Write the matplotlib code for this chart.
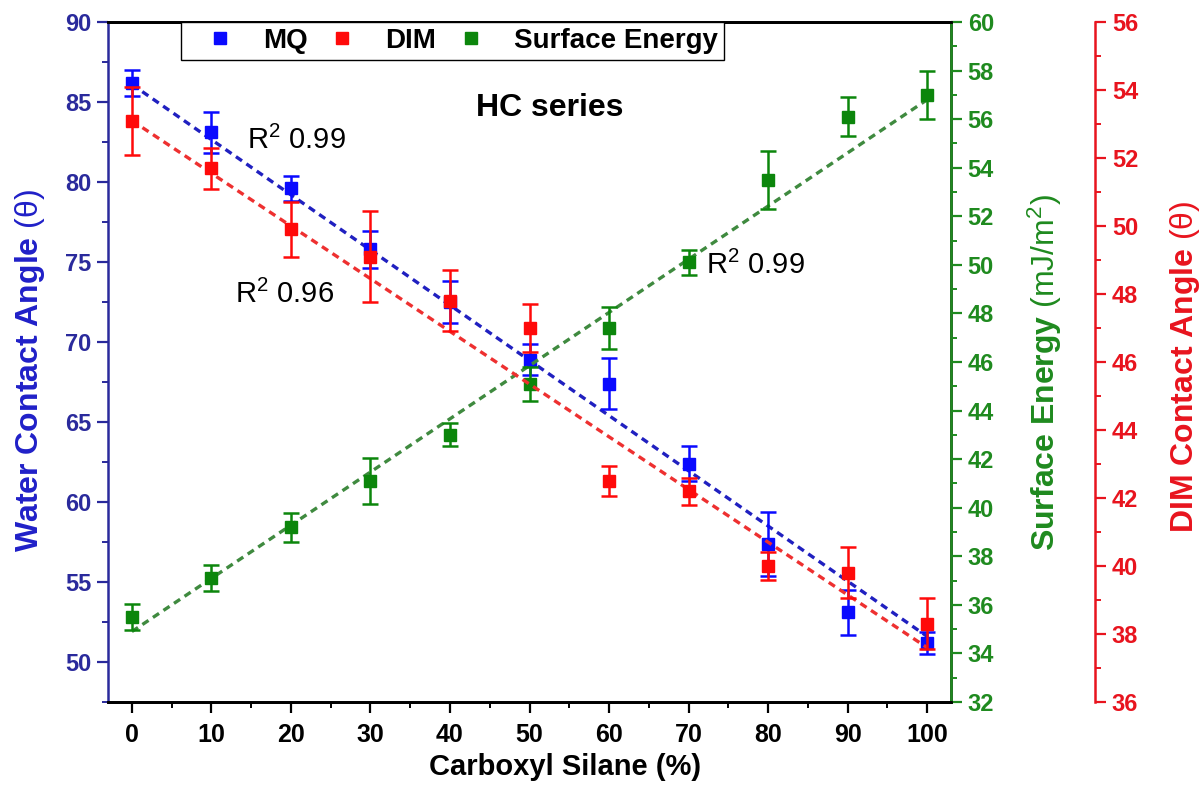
import numpy as np
import matplotlib
matplotlib.use('Agg')
import matplotlib.pyplot as plt
from matplotlib.lines import Line2D
from matplotlib.ticker import MultipleLocator

plt.rcParams['font.family'] = ['Liberation Sans', 'DejaVu Sans']
plt.rcParams['mathtext.fontset'] = 'custom'
plt.rcParams['mathtext.rm'] = 'Liberation Sans'
plt.rcParams['mathtext.it'] = 'Liberation Sans:italic'

# Carboxyl silane content (%)
silane = [0, 10, 20, 30, 40, 50, 60, 70, 80, 90, 100]

# Water contact angle (MQ)
mq = [86.2, 83.1, 79.6, 75.8, 72.5, 68.9, 67.4, 62.4, 57.4, 53.1, 51.2]
mq_err = [0.8, 1.3, 0.8, 1.15, 1.3, 0.95, 1.6, 1.1, 2.0, 1.4, 0.7]

# DIM contact angle
dim = [53.1, 51.7, 49.9, 49.1, 47.8, 47.0, 42.5, 42.2, 40.0, 39.8, 38.3]
dim_err = [1.0, 0.6, 0.8, 1.35, 0.9, 0.7, 0.45, 0.4, 0.4, 0.75, 0.75]

# Surface energy (mJ/m2)
se = [35.5, 37.1, 39.2, 41.1, 43.0, 45.1, 47.4, 50.1, 53.5, 56.1, 57.0]
se_err = [0.55, 0.55, 0.6, 0.95, 0.47, 0.7, 0.85, 0.5, 1.2, 0.8, 1.0]

# linear fit lines, values at 0 % and 100 %
fit_x = [0, 100]
fit_mq = [86.1, 51.6]
fit_dim = [53.1, 37.6]
fit_se = [34.9, 56.8]

blue_ax = '#2a2a9c'
green_ax = '#1f8a1f'
red_ax = '#e8141e'
c_mq = '#0a0aff'
c_dim = '#ff0a0a'
c_se = '#0c860c'

fig = plt.figure(figsize=(12.03, 7.89), dpi=100)
ax = fig.add_axes([0.0898, 0.1103, 0.7007, 0.8618])
ax2 = ax.twinx()
ax3 = ax.twinx()
ax3.spines['right'].set_position(('axes', 1.171))


def draw(a, y, err, fit, col, lcol):
    a.plot(fit_x, fit, ls=(0, (2.2, 1.6)), lw=2.4, color=lcol, zorder=2)
    a.errorbar(silane, y, yerr=err, fmt='s', ms=9, color=col, ecolor=col,
               elinewidth=1.8, capsize=6, capthick=1.8, zorder=3)


draw(ax, mq, mq_err, fit_mq, c_mq, '#2020c0')
draw(ax3, dim, dim_err, fit_dim, c_dim, '#ee3030')
draw(ax2, se, se_err, fit_se, c_se, '#3f8a3f')

ax.set_xlim(-3, 103)
ax.set_ylim(47.5, 90)
ax2.set_ylim(32, 60)
ax3.set_ylim(36, 56)

ax.xaxis.set_major_locator(MultipleLocator(10))
ax.xaxis.set_minor_locator(MultipleLocator(5))
ax.yaxis.set_major_locator(MultipleLocator(5))
ax.yaxis.set_minor_locator(MultipleLocator(2.5))
for a in (ax2, ax3):
    a.yaxis.set_major_locator(MultipleLocator(2))
    a.yaxis.set_minor_locator(MultipleLocator(1))

for a in (ax, ax2, ax3):
    for s in a.spines.values():
        s.set_linewidth(1.8)
    a.tick_params(which='major', length=8, width=1.6, labelsize=17, pad=4)
    a.tick_params(which='minor', length=4.5, width=1.4)
ax.tick_params(axis='x', labelsize=18, pad=7)
for a in (ax, ax2, ax3):
    for lab in a.get_xticklabels() + a.get_yticklabels():
        lab.set_fontweight('bold')

ax.spines['left'].set_color(blue_ax)
ax.tick_params(axis='y', which='both', colors=blue_ax)
ax2.spines['right'].set_color(green_ax)
ax2.tick_params(axis='y', which='both', colors=green_ax)
ax3.spines['right'].set_color(red_ax)
ax3.tick_params(axis='y', which='both', colors=red_ax)
for a in (ax2, ax3):
    a.spines['left'].set_visible(False)

ax.set_xlabel('Carboxyl Silane (%)', fontsize=21, fontweight='bold')
ax.set_ylabel(r'Water Contact Angle $\mathrm{(\theta)}$', fontsize=23,
              fontweight='bold', color='#2020c8')
ax2.set_ylabel(r'Surface Energy $\mathrm{(mJ/m^2)}$', fontsize=23,
               fontweight='bold', color=green_ax)
ax3.set_ylabel(r'DIM Contact Angle $\mathrm{(\theta)}$', fontsize=23,
               fontweight='bold', color=red_ax)
for axis, pos in ((ax.xaxis, (0.542, -0.0956)), (ax.yaxis, (-0.0925, 0.488)),
                  (ax2.yaxis, (1.1115, 0.485)), (ax3.yaxis, (1.2776, 0.493))):
    axis.label.set_va('center')
    axis.label.set_ha('center')
    axis.set_label_coords(*pos)

ax.text(52.6, 84.6, 'HC series', fontsize=23, fontweight='bold', ha='center', va='center')
ax.text(14.5, 82.6, r'R$^2$ 0.99', fontsize=21, ha='left', va='center')
ax.text(13.0, 73.0, r'R$^2$ 0.96', fontsize=21, ha='left', va='center')
ax.text(72.2, 74.8, r'R$^2$ 0.99', fontsize=21, ha='left', va='center')

handles = [Line2D([], [], ls='none', marker='s', ms=9, color=c) for c in (c_mq, c_dim, c_se)]
leg = ax3.legend(handles, ['MQ', 'DIM', 'Surface Energy'], loc='upper left',
                 bbox_to_anchor=(0.0866, 1.0), borderaxespad=0, ncol=3,
                 fancybox=False, edgecolor='black', framealpha=1,
                 prop={'weight': 'bold', 'size': 20}, handletextpad=0.36,
                 columnspacing=0.07, handlelength=2.37, borderpad=0.22)
leg.get_frame().set_linewidth(1.0)

fig.savefig('out.png', dpi=100)
